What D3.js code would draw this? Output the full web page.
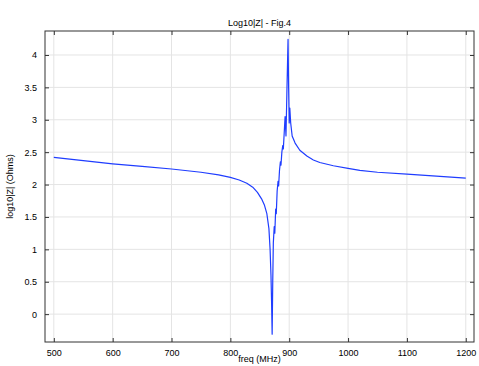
<!DOCTYPE html>
<html>
<head>
<meta charset="utf-8">
<script src="https://cdn.jsdelivr.net/npm/d3@7"></script>
<style>
  body { margin: 0; background: #fff; }
  text { font-family: "Liberation Sans", "DejaVu Sans", sans-serif; }
</style>
</head>
<body>
<div id="chart"></div>
<script>
// frequency (MHz) and log10|Z|
const freq = [500, 550, 600, 650, 700, 750, 780, 800, 815, 828, 838, 846, 853, 858, 862, 865.5, 867.5, 869, 870, 871,
    872, 873, 874.5, 875.5, 877, 878, 879.5, 881, 882, 883.5, 885, 886, 887.5, 889, 890, 891.5, 893, 894.5,
    896, 898, 899, 900, 901, 902.5, 905, 910, 918, 930, 941, 952, 975, 1000, 1020, 1050, 1100, 1150, 1200];
const logZ = [2.42, 2.37, 2.32, 2.28, 2.24, 2.19, 2.15, 2.11, 2.07, 2.02, 1.96, 1.88, 1.78, 1.68, 1.55, 1.32, 1.00, 0.6, 0.2, -0.31,
    0.5, 1.1, 1.35, 1.25, 1.62, 1.55, 1.90, 2.05, 1.98, 2.22, 2.35, 2.30, 2.50, 2.60, 2.55, 2.80, 3.05, 2.75,
    3.40, 4.24, 3.5, 2.95, 3.18, 2.95, 2.75, 2.64, 2.53, 2.44, 2.38, 2.34, 2.29, 2.25, 2.22, 2.19, 2.16, 2.13, 2.10];

const xTicks = [500, 600, 700, 800, 900, 1000, 1100, 1200];
const yTicks = [0, 0.5, 1, 1.5, 2, 2.5, 3, 3.5, 4];

const width = 479, height = 366;
const margin = {top: 31, left: 45, right: 5, bottom: 24};

const svg = d3.select("#chart").append("svg")
    .attr("width", width)
    .attr("height", height);

const xScale = d3.scaleLinear()
    .domain([485, 1214])
    .range([margin.left, width - margin.right]);

const yScale = d3.scaleLinear()
    .domain([-0.43, 4.37])
    .range([height - margin.bottom, margin.top]);

const x0 = margin.left, x1 = width - margin.right;
const y0 = height - margin.bottom, y1 = margin.top;

/* grid */
const grid = svg.append("g");
grid.selectAll(".gx").data(xTicks).enter().append("line")
    .attr("x1", d => xScale(d)).attr("x2", d => xScale(d))
    .attr("y1", y1).attr("y2", y0)
    .attr("stroke", "#e4e4e4").attr("stroke-width", 1);
grid.selectAll(".gy").data(yTicks).enter().append("line")
    .attr("x1", x0).attr("x2", x1)
    .attr("y1", d => yScale(d)).attr("y2", d => yScale(d))
    .attr("stroke", "#e4e4e4").attr("stroke-width", 1);

/* curve */
const data = freq.map((f, i) => ({f: f, v: logZ[i]}));
const line = d3.line()
    .x(d => xScale(d.f))
    .y(d => yScale(d.v));

svg.append("path")
    .datum(data)
    .attr("d", line)
    .attr("fill", "none")
    .attr("stroke", "#1f3dff")
    .attr("stroke-width", 1.2)
    .attr("stroke-linejoin", "round");

/* axes, ticks pointing inward on all four sides */
const fmt = d3.format("");

svg.append("g")
    .attr("transform", `translate(0,${y0})`)
    .call(d3.axisBottom(xScale).tickValues(xTicks).tickFormat(fmt).tickSizeInner(-4).tickSizeOuter(0).tickPadding(8))
    .call(g => g.select(".domain").remove());

svg.append("g")
    .attr("transform", `translate(0,${y1})`)
    .call(d3.axisTop(xScale).tickValues(xTicks).tickSizeInner(-4).tickSizeOuter(0).tickFormat(""))
    .call(g => g.select(".domain").remove());

svg.append("g")
    .attr("transform", `translate(${x0},0)`)
    .call(d3.axisLeft(yScale).tickValues(yTicks).tickFormat(fmt).tickSizeInner(-4).tickSizeOuter(0).tickPadding(8))
    .call(g => g.select(".domain").remove());

svg.append("g")
    .attr("transform", `translate(${x1},0)`)
    .call(d3.axisRight(yScale).tickValues(yTicks).tickSizeInner(-4).tickSizeOuter(0).tickFormat(""))
    .call(g => g.select(".domain").remove());

svg.selectAll(".tick line").attr("stroke", "#333");
svg.selectAll(".tick text").attr("font-size", 9).attr("fill", "#000")
    .style("font-family", "'Liberation Sans', 'DejaVu Sans', sans-serif");

svg.append("rect")
    .attr("x", x0).attr("y", y1)
    .attr("width", x1 - x0).attr("height", y0 - y1)
    .attr("fill", "none")
    .attr("stroke", "#333")
    .attr("stroke-width", 1);

/* labels */
svg.append("text")
    .attr("x", (x0 + x1) / 2)
    .attr("y", 26)
    .attr("text-anchor", "middle")
    .attr("font-size", 9)
    .text("Log10|Z| - Fig.4");

svg.append("text")
    .attr("x", (x0 + x1) / 2)
    .attr("y", 362)
    .attr("text-anchor", "middle")
    .attr("font-size", 9)
    .text("freq (MHz)");

svg.append("text")
    .attr("transform", `translate(13,${(y0 + y1) / 2}) rotate(-90)`)
    .attr("text-anchor", "middle")
    .attr("font-size", 9)
    .text("log10|Z| (Ohms)");
</script>
</body>
</html>
